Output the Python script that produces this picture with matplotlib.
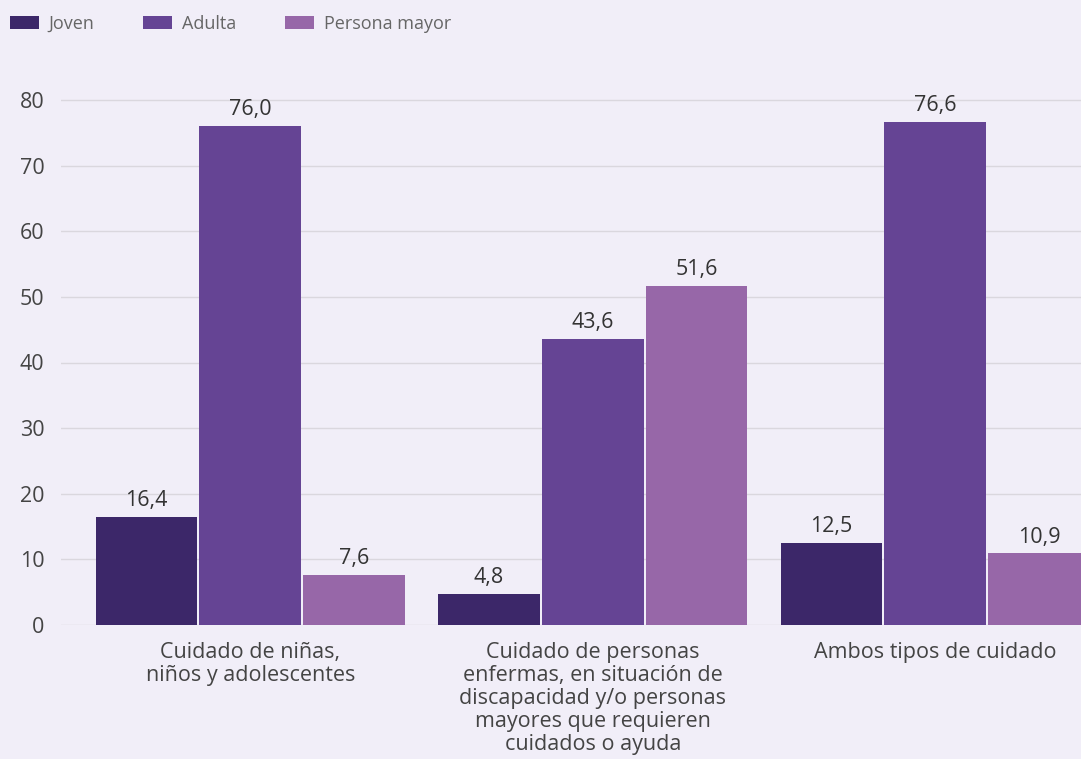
import matplotlib
matplotlib.use("Agg")
import matplotlib.pyplot as plt
import numpy as np
from matplotlib.patches import Patch

categories = ["Cuidado de niñas,\nniños y adolescentes",
              "Cuidado de personas\nenfermas, en situación de\ndiscapacidad y/o personas\nmayores que requieren\ncuidados o ayuda",
              "Ambos tipos de cuidado"]
series_names = ["Joven", "Adulta", "Persona mayor"]
joven = [16.4, 4.8, 12.5]
adulta = [76.0, 43.6, 76.6]
mayor = [7.6, 51.6, 10.9]
yticks = [0, 10, 20, 30, 40, 50, 60, 70, 80]

colors = ["#3C2769", "#654494", "#9767A8"]
bg = "#F1EEF8"
txt = "#444444"

plt.rcParams['font.family'] = ['Open Sans', 'DejaVu Sans']

fig = plt.figure(figsize=(10.81, 7.59), dpi=100, facecolor=bg)
ax = fig.add_axes([61/1081, 1-625/759, 1020/1081, (625-55)/759])
ax.set_facecolor(bg)

x = np.arange(len(categories))
w = 0.297
off = 0.303
for i, (vals, c) in enumerate(zip([joven, adulta, mayor], colors)):
    pos = x + (i-1)*off
    ax.bar(pos, vals, width=w, color=c, zorder=3)
    for p, v in zip(pos, vals):
        ax.text(p, v + 0.9, f"{v:.1f}".replace(".", ","), ha="center", va="bottom",
                fontsize=15.5, color="#333333", zorder=4)

ax.set_xlim(-0.5525, 2.4257)
ax.set_ylim(0, (625-55)/6.5625)
ax.set_yticks(yticks)
ax.set_yticklabels([str(t) for t in yticks], fontsize=15.5, color=txt)
ax.yaxis.grid(True, color="#DAD7DE", linewidth=1, zorder=0)
ax.set_xticks(x)
ax.set_xticklabels(categories, fontsize=15.5, color=txt, linespacing=1.13, va="top")
ax.tick_params(axis="both", length=0)
ax.tick_params(axis="y", pad=12)
ax.tick_params(axis="x", pad=12)
for s in ax.spines.values():
    s.set_visible(False)

handles = [Patch(facecolor=c, edgecolor="none") for c in colors]
fig.legend(handles, series_names, loc="upper left", bbox_to_anchor=(10/1081, 1 - 15/759),
           ncol=3, frameon=False, fontsize=13, labelcolor="#666666",
           handlelength=1.6, handleheight=0.72, columnspacing=2.7, handletextpad=0.55,
           borderaxespad=0, borderpad=0)

fig.savefig("out.png", dpi=100, facecolor=bg)
